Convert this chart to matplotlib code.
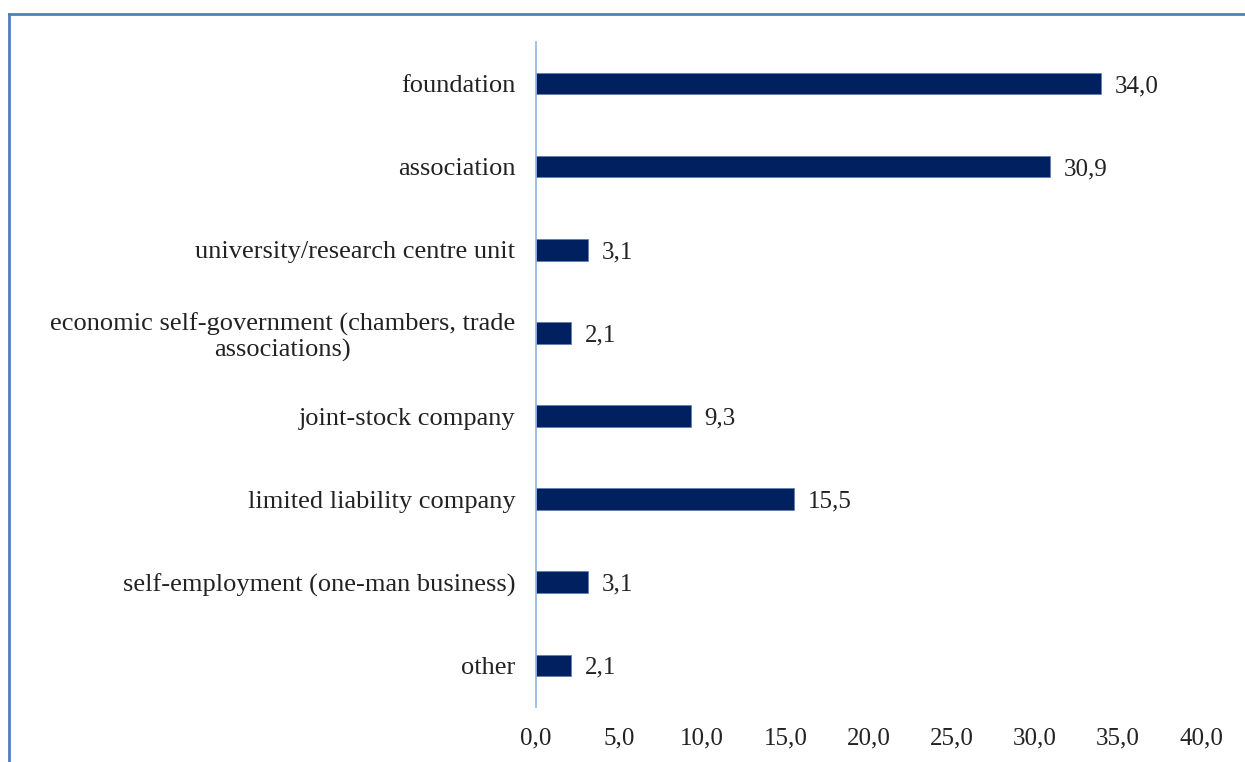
import matplotlib
matplotlib.use("Agg")
import matplotlib.pyplot as plt
from matplotlib.lines import Line2D

categories = ["foundation", "association", "university/research centre unit",
              "economic self-government (chambers, trade\nassociations)",
              "joint-stock company", "limited liability company",
              "self-employment (one-man business)", "other"]
values = [34.0, 30.9, 3.1, 2.1, 9.3, 15.5, 3.1, 2.1]
xticks = [0, 5, 10, 15, 20, 25, 30, 35, 40]

plt.rcParams['font.family'] = ['Liberation Serif', 'DejaVu Serif']

fig = plt.figure(figsize=(12.45, 7.62), dpi=100)
ax = fig.add_axes([0.4305, 0.0722, 0.9647 - 0.4305, 0.9449 - 0.0722])

ypos = list(range(len(categories)))
ax.barh(ypos, values, height=0.26, color="#002060", edgecolor="#5b7bb0", linewidth=0.5)

for y, v in zip(ypos, values):
    ax.annotate(f"{v:.1f}".replace(".", ","), xy=(v, y), xytext=(10, 0),
                textcoords="offset points", va="center_baseline", ha="left",
                fontsize=18, color="#222222")

ax.set_xlim(0, 40)
ax.set_ylim(len(categories) - 0.5, -0.5)
ax.set_yticks(ypos)
ax.set_yticklabels(categories, fontsize=19, color="#222222", multialignment="center")
ax.set_xticks(xticks)
ax.set_xticklabels([f"{t:.1f}".replace(".", ",") for t in xticks], fontsize=18, color="#222222")
ax.tick_params(axis="both", length=0)
ax.tick_params(axis="x", pad=15)
ax.tick_params(axis="y", pad=15)

for s in ["top", "right", "bottom"]:
    ax.spines[s].set_visible(False)
ax.spines["left"].set_color("#8eb4e3")
ax.spines["left"].set_linewidth(1.2)

# outer frame (top and left edges of the embedded chart)
fig.add_artist(Line2D([9 / 1245, 1.0], [1 - 13.5 / 762, 1 - 13.5 / 762],
                      transform=fig.transFigure, color="#4f81bd", linewidth=2))
fig.add_artist(Line2D([9 / 1245, 9 / 1245], [0, 1 - 13.5 / 762],
                      transform=fig.transFigure, color="#4f81bd", linewidth=2))

fig.savefig("out.png", dpi=100)
